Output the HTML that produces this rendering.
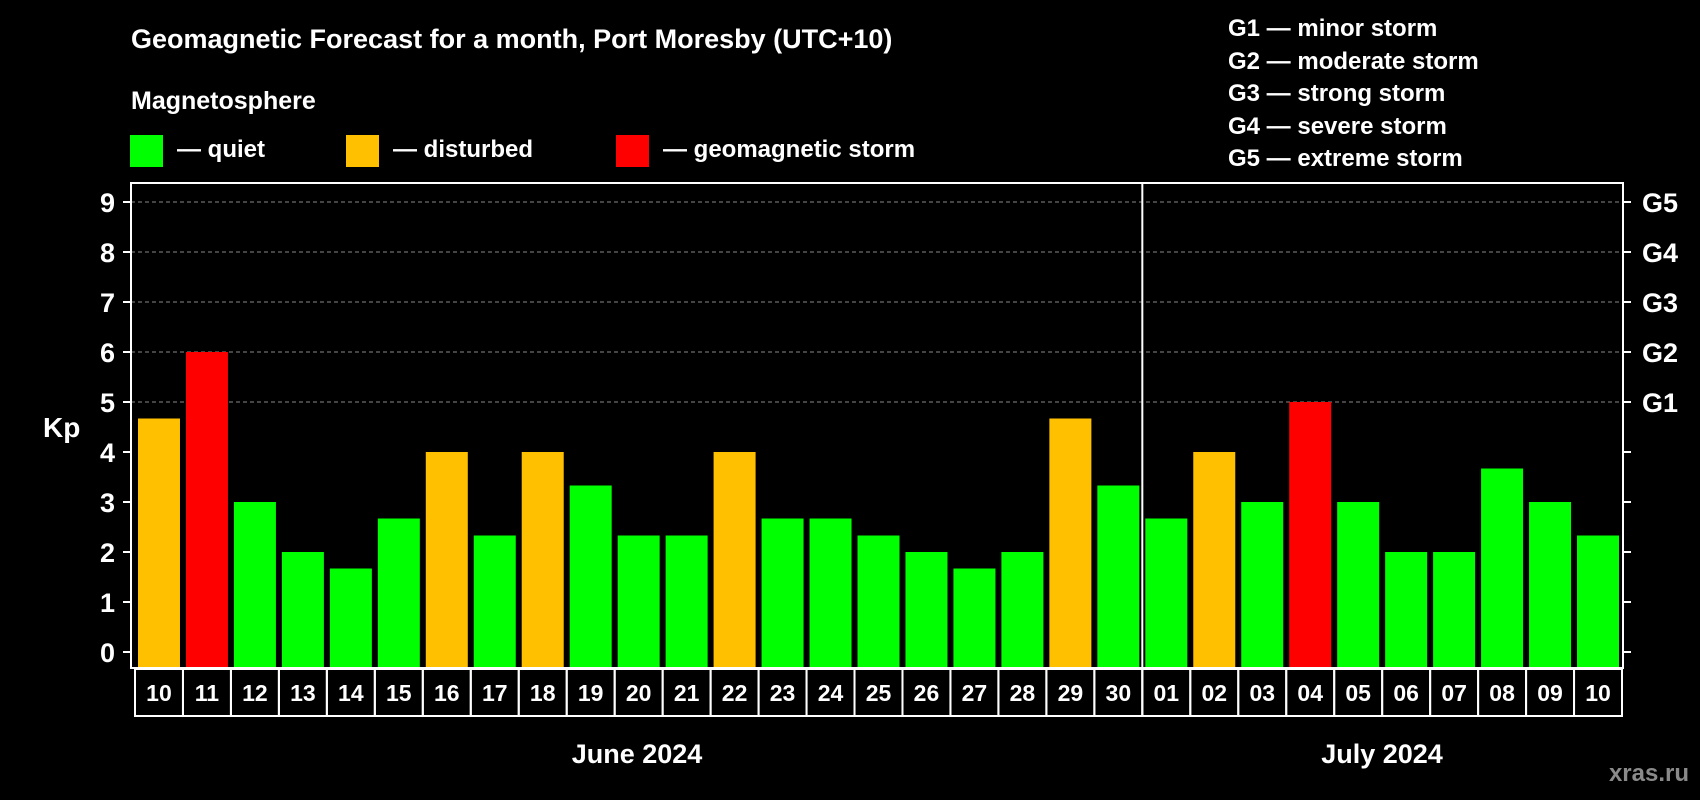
<!DOCTYPE html>
<html><head><meta charset="utf-8"><style>
html,body{margin:0;padding:0;background:#000;}
svg{display:block;font-family:"Liberation Sans",Arial,sans-serif;font-weight:bold;}
</style></head><body>
<svg id="chart" width="1700" height="800" viewBox="0 0 1700 800" xmlns="http://www.w3.org/2000/svg">
<rect width="1700" height="800" fill="#000"/>
<text x="131" y="48" fill="#fff" font-size="27">Geomagnetic Forecast for a month, Port Moresby (UTC+10)</text>
<text x="131" y="109" fill="#fff" font-size="25">Magnetosphere</text>
<g>
<rect x="130" y="135" width="33" height="32" fill="#00ff00"/>
<text x="177" y="157" fill="#fff" font-size="24">— quiet</text>
<rect x="346" y="135" width="33" height="32" fill="#ffc000"/>
<text x="393" y="157" fill="#fff" font-size="24">— disturbed</text>
<rect x="616" y="135" width="33" height="32" fill="#ff0000"/>
<text x="663" y="157" fill="#fff" font-size="24">— geomagnetic storm</text>
</g>
<g font-size="24" fill="#fff">
<text x="1228" y="36">G1 — minor storm</text>
<text x="1228" y="69">G2 — moderate storm</text>
<text x="1228" y="101">G3 — strong storm</text>
<text x="1228" y="134">G4 — severe storm</text>
<text x="1228" y="166">G5 — extreme storm</text>
</g>
<text x="43" y="437" fill="#fff" font-size="28">Kp</text>
<text x="637" y="763" fill="#fff" font-size="27" text-anchor="middle">June 2024</text>
<text x="1382" y="763" fill="#fff" font-size="27" text-anchor="middle">July 2024</text>
<text x="1689" y="781" fill="#8a8a8a" font-size="24" text-anchor="end">xras.ru</text>
<g id="plot"></g>
</svg>
<script>
const days = ["10","11","12","13","14","15","16","17","18","19","20","21","22","23","24","25","26","27","28","29","30","01","02","03","04","05","06","07","08","09","10"];
const kpValues = [4.67,6,3,2,1.67,2.67,4,2.33,4,3.33,2.33,2.33,4,2.67,2.67,2.33,2,1.67,2,4.67,3.33,2.67,4,3,5,3,2,2,3.67,3,2.33];
const yTicks = [0,1,2,3,4,5,6,7,8,9];
const gLabels = ["G1","G2","G3","G4","G5"];
const gLevels = [5,6,7,8,9];
const monthSplitIndex = 21;

const NS = "http://www.w3.org/2000/svg";
const plot = document.getElementById("plot");
const L = 131, R = 1623, T = 183, B = 668;
const colL = 135, colW = (1622 - 135) / days.length;
const y = v => 652 - v * 50;
const xc = i => colL + colW * (i + 0.5);
function mk(tag, attrs, parent) {
  const e = document.createElementNS(NS, tag);
  for (const k in attrs) e.setAttribute(k, attrs[k]);
  (parent || plot).appendChild(e);
  return e;
}
function color(v) { return v >= 5 ? "#ff0000" : v >= 4 ? "#ffc000" : "#00ff00"; }

// grid lines for G levels
gLevels.forEach((lv, i) => {
  const g = mk("line", {x1: L, x2: R, y1: y(lv), y2: y(lv), stroke: "#888", "stroke-width": 1, "stroke-dasharray": "4,3"});
  
  
  const t = mk("text", {x: 1642, y: y(lv) + 10, fill: "#fff", "font-size": 27});
  t.textContent = gLabels[i];
  
  
});

// bars
kpValues.forEach((v, i) => {
  const r = mk("rect", {x: xc(i) - 21, y: y(v), width: 42, height: B - y(v), fill: color(v)});
  
  
});

// y ticks
yTicks.forEach(v => {
  const l = mk("line", {x1: L - 8, x2: L, y1: y(v), y2: y(v), stroke: "#fff", "stroke-width": 2});
  
  
  const r2 = mk("line", {x1: R, x2: R + 8, y1: y(v), y2: y(v), stroke: "#fff", "stroke-width": 2});
  
  
  const t = mk("text", {x: 115, y: y(v) + 10, fill: "#fff", "font-size": 27, "text-anchor": "end"});
  t.textContent = v;
  
  
});

// plot frame
const frame = mk("rect", {x: L, y: T, width: R - L, height: B - T, fill: "none", stroke: "#fff", "stroke-width": 2});


const sx = colL + colW * monthSplitIndex;
const sep = mk("line", {x1: sx, x2: sx, y1: T, y2: 716, stroke: "#fff", "stroke-width": 2});



// date boxes
days.forEach((d, i) => {
  const r = mk("rect", {x: colL + colW * i, y: 669, width: colW, height: 47, fill: "none", stroke: "#fff", "stroke-width": 2});
  
  
  const t = mk("text", {x: xc(i), y: 701, fill: "#fff", "font-size": 23, "text-anchor": "middle"});
  t.textContent = d;
  
  
});
</script>
</body></html>
